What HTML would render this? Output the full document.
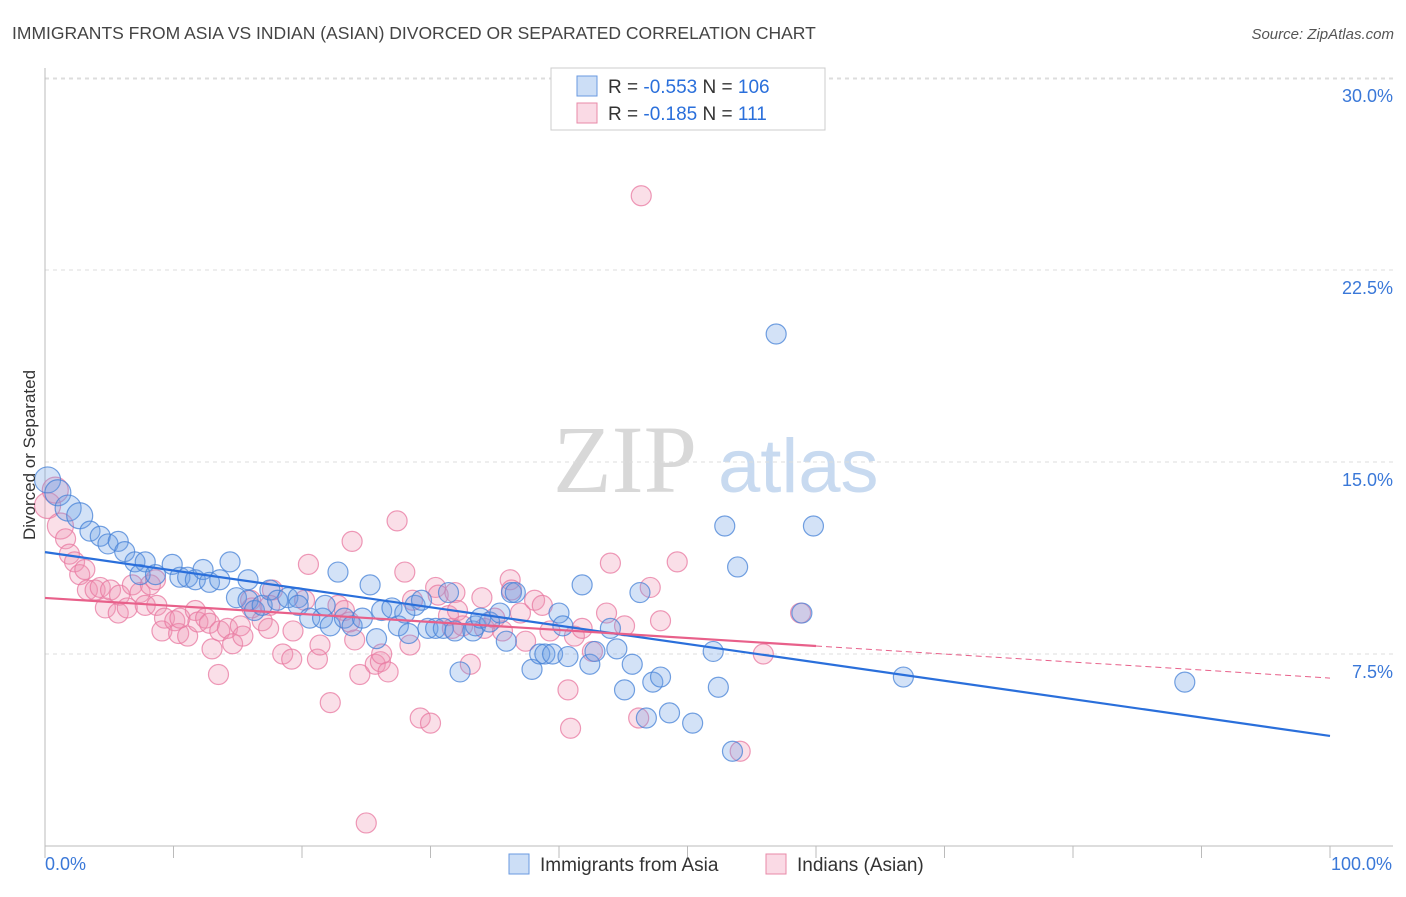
<!DOCTYPE html>
<html><head><meta charset="utf-8"><style>
body{margin:0;background:#fff;font-family:"Liberation Sans",sans-serif}
</style></head><body>
<svg width="1406" height="892" xmlns="http://www.w3.org/2000/svg">
<text x="12" y="39" font-size="17.5" fill="#444">IMMIGRANTS FROM ASIA VS INDIAN (ASIAN) DIVORCED OR SEPARATED CORRELATION CHART</text>
<text x="1394" y="39" font-size="15" fill="#555" text-anchor="end" font-style="italic">Source: ZipAtlas.com</text>
<g>
<text x="553" y="492" font-size="96" font-family="Liberation Serif,serif" fill="#d8d8d8">ZIP</text>
<text x="718" y="492" font-size="76" fill="#c8daf0">atlas</text>
</g>
<g id="grid"></g>
<g id="axes"></g>
<g id="pts"></g>
<g id="lines"></g>
<text x="35" y="455" font-size="17" fill="#333" text-anchor="middle" transform="rotate(-90 35 455)">Divorced or Separated</text>
<g>
<rect x="551" y="68" width="274" height="62" fill="#fff" stroke="#ccc"/>
<rect x="577" y="76" width="20" height="20" fill="rgba(110,160,230,0.35)" stroke="#6a9ae0"/>
<text x="608" y="93" font-size="19" fill="#333">R = <tspan fill="#2a6fdb">-0.553</tspan>   N = <tspan fill="#2a6fdb">106</tspan></text>
<rect x="577" y="103" width="20" height="20" fill="rgba(240,150,180,0.35)" stroke="#e88aa8"/>
<text x="608" y="120" font-size="19" fill="#333">R =  <tspan fill="#2a6fdb">-0.185</tspan>   N =  <tspan fill="#2a6fdb">111</tspan></text>
</g>
<g>
<rect x="509" y="854" width="20" height="20" fill="rgba(110,160,230,0.35)" stroke="#6a9ae0"/>
<text x="540" y="871" font-size="19" fill="#333">Immigrants from Asia</text>
<rect x="766" y="854" width="20" height="20" fill="rgba(240,150,180,0.35)" stroke="#e88aa8"/>
<text x="797" y="871" font-size="19" fill="#333">Indians (Asian)</text>
</g>
</svg>
<script>
const yTicks=[7.5,15,22.5,30];
const yTickLabels=["7.5%","15.0%","22.5%","30.0%"];
const xEnds=[0,100];
const xEndLabels=["0.0%","100.0%"];
const blueX=[0.2,1.0,1.8,2.7,3.5,4.3,4.9,5.7,6.2,7.0,7.8,7.4,8.6,9.9,10.5,11.1,11.7,12.3,12.8,13.6,14.4,14.9,15.8,15.8,16.3,16.9,17.5,18.1,18.9,19.7,19.7,20.6,21.6,21.8,22.2,22.8,23.3,23.9,24.7,25.3,25.8,26.2,27.0,27.5,28.0,28.3,28.8,29.3,29.8,30.4,31.0,31.4,31.9,32.3,33.3,33.5,33.9,34.6,35.4,35.9,36.3,36.6,37.9,38.5,38.9,39.5,40.0,40.3,40.7,41.8,42.4,42.8,44.0,44.5,45.1,45.7,46.3,46.8,47.3,47.9,48.6,50.4,52.0,52.4,52.9,53.5,53.9,56.9,58.9,59.8,66.8,88.7];
const blueY=[14.3,13.8,13.2,12.9,12.3,12.1,11.8,11.9,11.5,11.1,11.1,10.6,10.6,11.0,10.5,10.5,10.4,10.8,10.3,10.4,11.1,9.7,10.4,9.6,9.2,9.4,10.0,9.6,9.7,9.7,9.4,8.9,8.9,9.4,8.6,10.7,8.9,8.6,8.9,10.2,8.1,9.2,9.3,8.6,9.1,8.3,9.4,9.6,8.5,8.5,8.5,9.9,8.4,6.8,8.4,8.6,8.9,8.75,9.1,8.0,9.9,9.9,6.9,7.5,7.5,7.5,9.1,8.6,7.4,10.2,7.1,7.6,8.5,7.7,6.1,7.1,9.9,5.0,6.4,6.6,5.2,4.8,7.6,6.2,12.5,3.7,10.9,20.0,9.1,12.5,6.6,6.4];
const pinkX=[0.2,0.8,1.2,1.6,1.9,2.3,2.7,3.1,3.3,3.9,4.3,4.7,5.1,5.7,5.8,6.4,6.8,7.4,7.8,8.2,8.6,8.7,9.3,9.1,10.1,10.4,10.5,11.1,11.7,11.9,12.5,12.8,13.0,13.6,13.5,14.2,14.6,15.2,15.4,16.0,16.1,16.9,17.4,17.7,17.5,18.5,19.3,19.2,20.2,20.5,21.2,21.4,22.2,22.8,23.3,23.7,23.9,24.1,24.5,25.0,25.7,26.1,26.2,26.7,27.4,28.0,28.4,28.6,29.2,30.0,30.4,30.6,31.4,31.7,31.9,32.1,32.5,33.1,34.0,34.2,35.0,35.6,36.2,36.3,37.0,37.4,38.1,38.7,39.3,40.7,40.9,41.2,41.8,42.6,43.7,44.0,45.1,46.2,46.4,47.1,47.9,49.2,54.1,55.9,58.8];
const pinkY=[13.3,13.9,12.5,12.0,11.4,11.1,10.6,10.8,10.0,10.0,10.1,9.3,10.0,9.1,9.8,9.3,10.2,9.9,9.4,10.2,10.4,9.4,8.9,8.4,8.8,8.3,8.9,8.2,9.2,8.75,8.9,8.7,7.7,8.4,6.7,8.5,7.9,8.6,8.2,9.6,9.3,8.8,8.5,10.0,9.4,7.5,8.4,7.3,9.6,11.0,7.3,7.85,5.6,9.4,9.2,8.75,11.9,8.05,6.7,0.9,7.1,7.2,7.5,6.8,12.7,10.7,7.85,9.6,5.0,4.8,10.1,9.8,9.0,8.5,9.9,9.2,8.6,7.1,9.7,8.5,8.9,8.4,10.4,10.0,9.1,8.0,9.6,9.4,8.4,6.1,4.6,8.2,8.5,7.6,9.1,11.05,8.6,5.0,25.4,10.1,8.8,11.1,3.7,7.5,9.1];
const blueTrend=[11.48,4.3];
const pinkTrend=[9.69,6.56];
const pinkSolidEnd=60;
const NS="http://www.w3.org/2000/svg";
const X=v=>45+v*12.85, Y=v=>846-v*25.6;
function mk(tag,attrs,parent){const e=document.createElementNS(NS,tag);for(const k in attrs)e.setAttribute(k,attrs[k]);parent.appendChild(e);return e;}
const grid=document.getElementById('grid'),axes=document.getElementById('axes'),pts=document.getElementById('pts'),lines=document.getElementById('lines');
mk('line',{x1:45,x2:1393,y1:79,y2:79,stroke:'#ddd','stroke-dasharray':'4,4'},grid);
yTicks.forEach((t,i)=>{
 const l=mk('line',{x1:45,x2:1393,y1:Y(t),y2:Y(t),stroke:'#ddd','stroke-dasharray':'4,4'},grid);
 
 
 const tx=mk('text',{x:1393,y:Y(t)+24,'font-size':18,fill:'#3a78d8','text-anchor':'end'},axes);
 tx.textContent=yTickLabels[i];
 
 
});
mk('line',{x1:45,x2:45,y1:68,y2:846,stroke:'#bbb'},axes);
mk('line',{x1:45,x2:1393,y1:846,y2:846,stroke:'#bbb'},axes);
for(let i=0;i<=10;i++){const t=mk('line',{x1:X(i*10),x2:X(i*10),y1:846,y2:858,stroke:'#bbb'},axes);}
xEnds.forEach((v,i)=>{
 const tx=mk('text',{x:i?X(v)+62:X(v),y:870,'font-size':18,fill:'#3a78d8','text-anchor':i?'end':'start'},axes);
 tx.textContent=xEndLabels[i];
 
 
});
pinkX.forEach((x,i)=>{
 const c=mk('circle',{cx:X(x),cy:Y(pinkY[i]),r:i<3?13:10,fill:'rgba(240,150,180,0.3)',stroke:'rgba(232,120,160,0.75)','stroke-width':1.2},pts);
 
 
});
blueX.forEach((x,i)=>{
 const c=mk('circle',{cx:X(x),cy:Y(blueY[i]),r:i<4?13:10,fill:'rgba(110,160,230,0.3)',stroke:'rgba(70,130,215,0.75)','stroke-width':1.2},pts);
 
 
});
const bl=mk('line',{x1:X(0),y1:Y(blueTrend[0]),x2:X(100),y2:Y(blueTrend[1]),stroke:'#2a6fdb','stroke-width':2.2},lines);


const pm=pinkTrend[0]+(pinkTrend[1]-pinkTrend[0])*pinkSolidEnd/100;
const pl=mk('line',{x1:X(0),y1:Y(pinkTrend[0]),x2:X(pinkSolidEnd),y2:Y(pm),stroke:'#e8608a','stroke-width':2.2},lines);


const pd=mk('line',{x1:X(pinkSolidEnd),y1:Y(pm),x2:X(100),y2:Y(pinkTrend[1]),stroke:'#e8608a','stroke-width':1,'stroke-dasharray':'6,4'},lines);


</script>
</body></html>
